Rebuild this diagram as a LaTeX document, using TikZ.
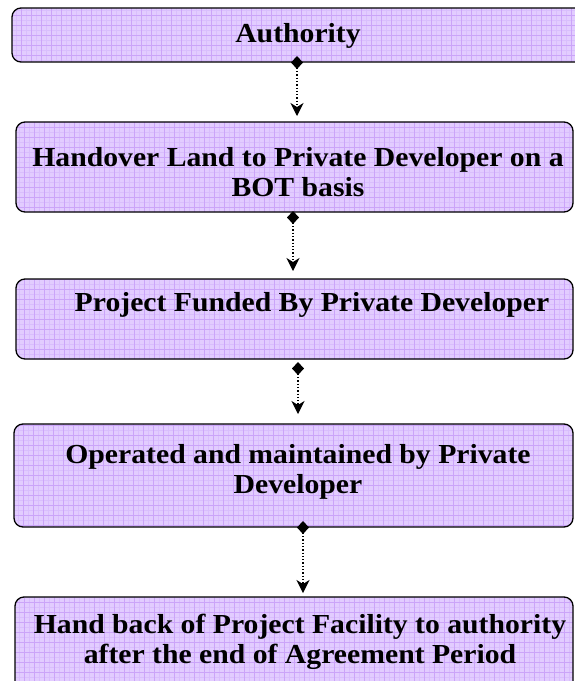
\documentclass[tikz,border=0pt]{standalone}
\usepackage{fontspec}
\setmainfont{Liberation Serif}[FakeStretch=1.08]
\usetikzlibrary{arrows.meta}

\definecolor{boxfill}{RGB}{226,204,255}
\definecolor{gridmajor}{RGB}{203,164,249}
\definecolor{gridminor}{RGB}{217,190,253}

\tikzset{
  gridbox/.style={
    draw=black, line width=1.3pt, rounded corners=9pt, fill=boxfill,
    inner sep=0pt, outer sep=0pt,
    path picture={
      \draw[gridminor, line width=0.3pt, step=5pt]
        (path picture bounding box.south west) grid (path picture bounding box.north east);
      \draw[gridmajor, line width=0.6pt, step=10pt]
        (path picture bounding box.south west) grid (path picture bounding box.north east);
    }
  },
  label/.style={font=\bfseries\fontsize{27.5}{30}\selectfont, align=center, inner sep=0pt},
  flow/.style={line width=1.3pt, dotted,
    {Diamond[length=13pt,width=12pt,line width=0pt]}-{Stealth[length=13pt,width=13pt,inset=4pt]}}
}

\begin{document}
\begin{tikzpicture}[x=1pt,y=-1pt]
\useasboundingbox (0,0) rectangle (574,681);

% boxes
\node[gridbox, minimum width=578pt, minimum height=54pt] (b1) at (301,35) {};
\node[gridbox, minimum width=557pt, minimum height=90pt] (b2) at (294.5,167) {};
\node[gridbox, minimum width=557pt, minimum height=80pt] (b3) at (294.5,319) {};
\node[gridbox, minimum width=559pt, minimum height=103pt] (b4) at (293.5,475.5) {};
\node[gridbox, minimum width=558pt, minimum height=110pt] (b5) at (294,652) {};

% texts
\node[label] (l1) at (298,36) {Authority};
\node[label] (l2) at (298,172) {Handover Land to Private Developer on a\\BOT basis};
\node[label] (l3) at (312,305) {Project Funded By Private Developer};
\node[label] (l4) at (298,472) {Operated and maintained by Private\\Developer};
\node[label] (l5) at (300,642) {Hand back of Project Facility to authority\\after the end of Agreement Period};

% connector ends
\coordinate (d1) at (297,56);
\coordinate (t1) at (297,116);
\coordinate (d2) at (293,211);
\coordinate (t2) at (293,271);
\coordinate (d3) at (298,362);
\coordinate (t3) at (298,414);
\coordinate (d4) at (303,521);
\coordinate (t4) at (303,593);

\draw[flow] (d1) -- (t1);
\draw[flow] (d2) -- (t2);
\draw[flow] (d3) -- (t3);
\draw[flow] (d4) -- (t4);
\end{tikzpicture}
\end{document}
